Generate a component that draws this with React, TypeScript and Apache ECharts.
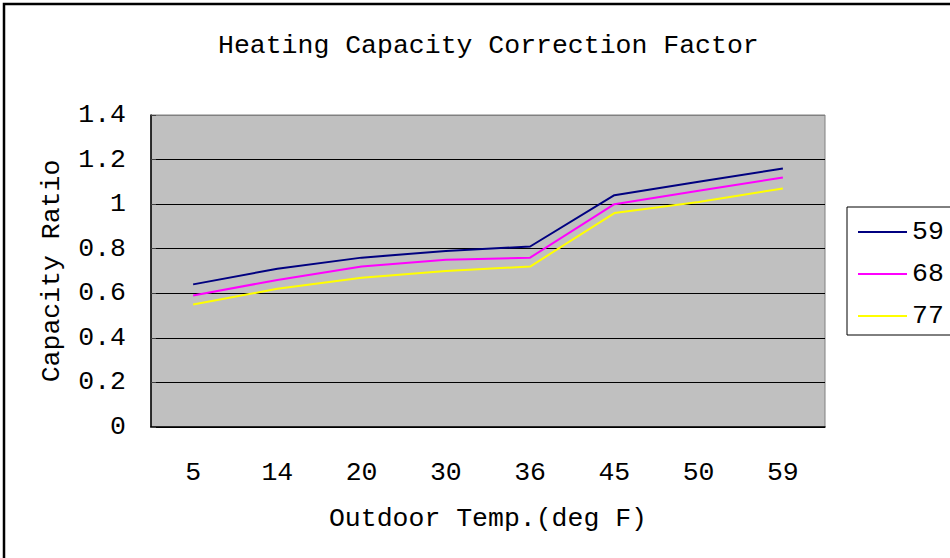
import React, { useEffect, useRef } from "react";
import * as echarts from "echarts";

const categories = ["5", "14", "20", "30", "36", "45", "50", "59"];
const seriesNames = ["59", "68", "77"];
const s59 = [0.64, 0.71, 0.76, 0.79, 0.81, 1.04, 1.1, 1.16];
const s68 = [0.59, 0.66, 0.72, 0.75, 0.76, 1.0, 1.06, 1.12];
const s77 = [0.55, 0.62, 0.67, 0.7, 0.72, 0.96, 1.01, 1.07];
const seriesColors = ["#000080", "#FF00FF", "#FFFF00"];

const FONT = "Liberation Mono";
const FS = 26.5;

export default function App() {
  const ref = useRef<HTMLDivElement>(null);
  useEffect(() => {
    document.body.style.margin = "0";
    const chart = echarts.init(ref.current!, undefined, { renderer: "svg" });
    const data = [s59, s68, s77];
    chart.setOption({
      animation: false,
      backgroundColor: "#ffffff",
      title: {
        text: "Heating Capacity Correction Factor",
        left: 213,
        top: 27,
        textStyle: { fontFamily: FONT, fontSize: FS, fontWeight: "normal", color: "#000" },
      },
      graphic: [
        {
          type: "rect",
          shape: { x: 4, y: 4, width: 1000, height: 700 },
          style: { fill: "none", stroke: "#000", lineWidth: 2.5 },
          z: 100,
        },
      ],
      legend: {
        orient: "vertical",
        left: 847,
        top: 207,
        padding: [10, 40, 4, 11],
        borderColor: "#000",
        borderWidth: 1,
        itemWidth: 49,
        itemHeight: 2,
        itemGap: 12,
        icon: "rect",
        data: seriesNames,
        textStyle: { fontFamily: FONT, fontSize: FS, color: "#000", lineHeight: 30 },
      },
      grid: {
        left: 151,
        top: 115,
        right: 125,
        bottom: 131,
        show: true,
        backgroundColor: "#C0C0C0",
        borderColor: "#808080",
        borderWidth: 1,
      },
      xAxis: {
        type: "category",
        data: categories,
        boundaryGap: true,
        name: "Outdoor Temp.(deg F)",
        nameLocation: "middle",
        nameGap: 78,
        nameTextStyle: { fontFamily: FONT, fontSize: FS, color: "#000" },
        axisLine: { lineStyle: { color: "#000", width: 1.5 } },
        axisTick: { inside: true, length: 10, lineStyle: { color: "#404040", width: 1 } },
        axisLabel: { fontFamily: FONT, fontSize: FS, color: "#000", margin: 32 },
      },
      yAxis: {
        type: "value",
        min: 0,
        max: 1.4,
        interval: 0.2,
        name: "Capacity Ratio",
        nameLocation: "middle",
        nameRotate: 90,
        nameGap: 86,
        nameTextStyle: { fontFamily: FONT, fontSize: FS, color: "#000" },
        axisLine: { show: true, lineStyle: { color: "#000", width: 1.5 } },
        axisTick: { show: true, inside: true, length: 5, lineStyle: { color: "#404040" } },
        axisLabel: { fontFamily: FONT, fontSize: FS, color: "#000", margin: 25 },
        splitLine: {
          show: true,
          lineStyle: {
            color: ["#000", "#000", "#000", "#000", "#000", "#000", "#000", "#808080"],
            width: 1,
          },
        },
      },
      series: seriesNames.map((n, i) => ({
        name: n,
        type: "line",
        data: data[i],
        symbol: "none",
        showSymbol: false,
        lineStyle: { color: seriesColors[i], width: 2 },
        itemStyle: { color: seriesColors[i] },
      })),
    });
    return () => chart.dispose();
  }, []);
  return (
    <div
      ref={ref}
      style={{ position: "absolute", left: 0, top: 0, width: 950, height: 558 }}
    />
  );
}
